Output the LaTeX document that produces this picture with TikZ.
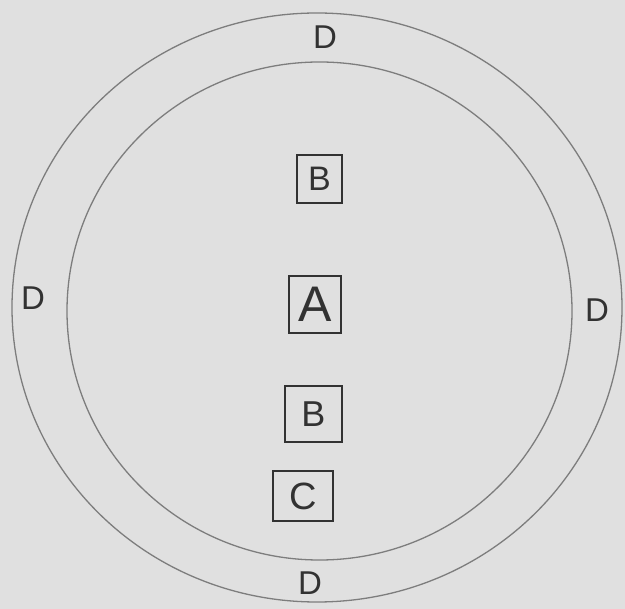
\documentclass[tikz,border=0pt]{standalone}
\usepackage{fontspec}
\setmainfont{Liberation Sans}
\usetikzlibrary{positioning}
\definecolor{paper}{RGB}{224,224,224}
\definecolor{ring}{RGB}{125,125,125}
\definecolor{ink}{RGB}{50,50,50}

\begin{document}
\begin{tikzpicture}[x=1pt,y=-1pt,
  part/.style={draw=ink,line width=1.6pt,inner sep=0pt,text=ink},
  side/.style={text=ink,inner sep=1pt,font=\fontsize{33}{33}\selectfont}
]
  \fill[paper] (0,0) rectangle (625,609);
  \useasboundingbox (0,0) rectangle (625,609);
  % rings
  \draw[ring,line width=1.3pt] (317,307.5) ellipse [x radius=305,y radius=294.5];
  \draw[ring,line width=1.3pt] (319.5,311) ellipse [x radius=252.5,y radius=249];
  % parts inside
  \node[part,minimum width=45pt,minimum height=48pt,font=\fontsize{34}{34}\selectfont] (btop) at (319.5,179) {B};
  \node[part,minimum width=52pt,minimum height=57pt,font=\fontsize{50}{50}\selectfont] (a) at (315,304.5) {A};
  \node[part,minimum width=57pt,minimum height=56pt,font=\fontsize{36}{36}\selectfont] (blow) at (313.5,414) {B};
  \node[part,minimum width=60pt,minimum height=50pt,font=\fontsize{38}{38}\selectfont] (c) at (303,496) {C};
  % labels on the ring
  \node[side] (dtop) at (325,37) {D};
  \node[side] (dleft) at (33,298) {D};
  \node[side] (dright) at (597,310) {D};
  \node[side] (dbottom) at (310,583) {D};
\end{tikzpicture}
\end{document}
